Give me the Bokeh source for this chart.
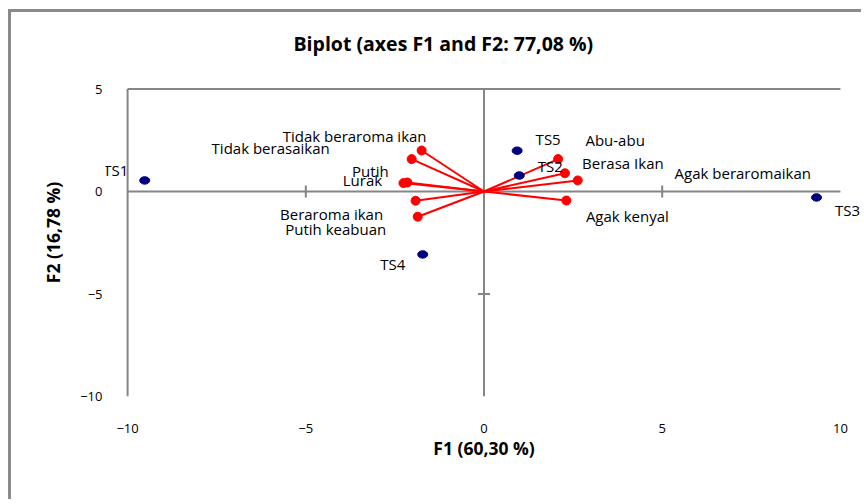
from bokeh.plotting import figure
from bokeh.models import ColumnDataSource, Range1d, FixedTicker
from bokeh.core.properties import value
from bokeh.embed import file_html
from bokeh.resources import INLINE

# ---------------- data ----------------
obs_names = ["TS1", "TS2", "TS3", "TS4", "TS5"]
obs_f1 = [-9.52, 0.99, 9.33, -1.72, 0.93]
obs_f2 = [0.54, 0.78, -0.29, -3.07, 1.99]

var_names = ["Tidak beraroma ikan", "Tidak berasaikan", "Putih", "Lurak",
             "Beraroma ikan", "Putih keabuan", "Abu-abu", "Berasa Ikan",
             "Agak beraromaikan", "Agak kenyal"]
var_f1 = [-1.75, -2.03, -2.15, -2.26, -1.92, -1.86, 2.08, 2.27, 2.63, 2.31]
var_f2 = [2.00, 1.58, 0.44, 0.41, -0.45, -1.23, 1.58, 0.89, 0.54, -0.44]

x_ticks = [-10, -5, 0, 5, 10]
y_ticks = [-10, -5, 0, 5]

title_text = "Biplot (axes F1 and F2: 77,08 %)"
x_label = "F1 (60,30 %)"
y_label = "F2 (16,78 %)"

# label placement (pixel offsets, style only)
obs_dx = [-29, 31, 31, -30, 31]
obs_dy = [-10, -10, 13, 10, -12]
var_dx = [-67, -141, -37, -41, -84, -82, 57, 58, 165, 61]
var_dy = [-15, -11, -11, -3, 13, 12, -19, -10, -7, 15]

GRAY = "#868686"
FONT = "Open Sans"

p = figure(width=853, height=490, output_backend="svg", toolbar_location=None,
           x_range=Range1d(-10.62, 10.62), y_range=Range1d(-10, 6.0),
           min_border_left=94, min_border_right=2, min_border_top=56,
           min_border_bottom=106)
p.styles = {"margin-left": "8px", "margin-top": "9px",
            "border-left": "3px solid #8a8a8a", "border-top": "3px solid #8a8a8a"}

p.outline_line_color = None
p.xgrid.visible = False
p.ygrid.visible = False

# title
p.title.text = title_text
p.title.align = "left"
p.title.offset = 188
p.title.standoff = 24
p.title.text_font = FONT
p.title.text_font_size = "19.5px"
p.title.text_font_style = "bold"
p.title.text_color = "#000000"

for ax, ticks, standoff, lab, lstand in ((p.xaxis[0], x_ticks, 21, x_label, 0),
                                         (p.yaxis[0], y_ticks, -3, y_label, 12)):
    ax.ticker = FixedTicker(ticks=ticks)
    ax.axis_line_color = None
    ax.major_tick_line_color = None
    ax.minor_tick_line_color = None
    ax.major_label_standoff = standoff
    ax.major_label_text_font = FONT
    ax.major_label_text_font_size = "13px"
    ax.major_label_text_color = "#000000"
    ax.axis_label = lab
    ax.axis_label_standoff = lstand
    ax.axis_label_text_font = FONT
    ax.axis_label_text_font_size = "17.5px"
    ax.axis_label_text_font_style = "bold"
    ax.axis_label_text_color = "#000000"

# plot-area lines: left border, top border, and the crossing axes
x0, x1 = x_ticks[0], x_ticks[-1]
y0, y1 = y_ticks[0], y_ticks[-1]
p.segment(x0=[x0, x0, x0, 0], y0=[y0, y1, 0, y0],
          x1=[x0, x1, x1, 0], y1=[y1, y1, 0, y1],
          line_color=GRAY, line_width=2)

# cross ticks on the axes at 0
xt = [t for t in x_ticks if t not in (0, x0, x1)]
yt = [t for t in y_ticks if t not in (0, y0, y1)]
p.scatter(x=xt, y=[0] * len(xt), marker="dash", angle=1.5708, size=12,
          line_color=GRAY, line_width=2)
p.scatter(x=[0] * len(yt), y=yt, marker="dash", size=12,
          line_color=GRAY, line_width=2)

# variable vectors
vsrc = ColumnDataSource(dict(x=var_f1, y=var_f2, name=var_names,
                             dx=var_dx, dy=var_dy,
                             ox=[0] * len(var_f1), oy=[0] * len(var_f1)))
p.segment(x0="ox", y0="oy", x1="x", y1="y", source=vsrc,
          line_color="#FF0000", line_width=2)
p.scatter(x="x", y="y", source=vsrc, size=9, color="#FF0000")

# observations
osrc = ColumnDataSource(dict(x=obs_f1, y=obs_f2, name=obs_names,
                             dx=obs_dx, dy=obs_dy))
p.ellipse(x="x", y="y", source=osrc, width=10, height=7.5,
          width_units="screen", height_units="screen",
          fill_color="#000080", line_color="#000080")

for src in (vsrc, osrc):
    p.text(x="x", y="y", text="name", source=src, x_offset="dx", y_offset="dy",
           text_align="center", text_baseline="middle",
           text_font=value(FONT), text_font_size="15px", text_color="#000000")

open("out.html", "w").write(file_html(p, INLINE))
